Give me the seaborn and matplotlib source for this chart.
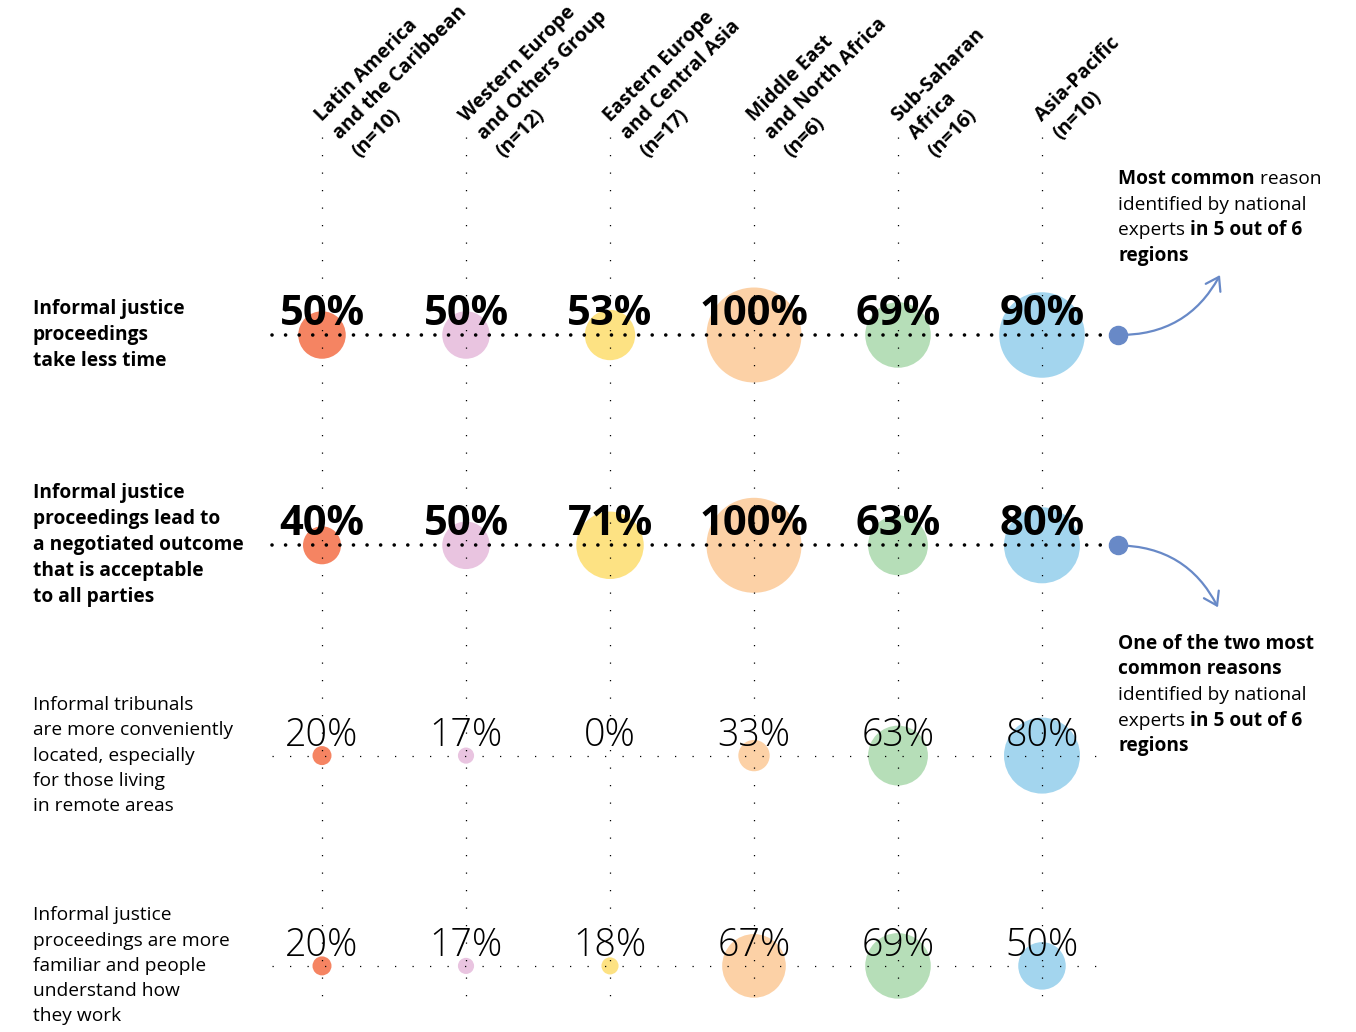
import numpy as np
import pandas as pd
import matplotlib
matplotlib.use("Agg")
import matplotlib.pyplot as plt
import seaborn as sns
from matplotlib.patches import FancyArrowPatch

# region columns
region_names = [
    "Latin America\nand the Caribbean",
    "Western Europe\nand Others Group",
    "Eastern Europe\nand Central Asia",
    "Middle East\nand North Africa",
    "Sub-Saharan\nAfrica",
    "Asia-Pacific",
]
region_n = [10, 12, 17, 6, 16, 10]
region_colors = ["#f58462", "#e9c4e0", "#fde283", "#fcd1a6", "#b6deb8", "#a3d5ee"]

# reasons (rows)
reasons = [
    "Informal justice\nproceedings\ntake less time",
    "Informal justice\nproceedings lead to\na negotiated outcome\nthat is acceptable\nto all parties",
    "Informal tribunals\nare more conveniently\nlocated, especially\nfor those living\nin remote areas",
    "Informal justice\nproceedings are more\nfamiliar and people\nunderstand how\nthey work",
]
reason_bold = [True, True, False, False]

# share of national experts (%)
less_time = [50, 50, 53, 100, 69, 90]
negotiated = [40, 50, 71, 100, 63, 80]
convenient = [20, 17, 0, 33, 63, 80]
familiar = [20, 17, 18, 67, 69, 50]
values = [less_time, negotiated, convenient, familiar]

rows = []
for j, vals in enumerate(values):
    for i, v in enumerate(vals):
        rows.append({"xi": i, "yi": j, "region": region_names[i], "value": v})
df = pd.DataFrame(rows)

sns.set_style("white")
plt.rcParams["font.family"] = ["Open Sans", "DejaVu Sans"]
plt.rcParams["text.color"] = "black"

W, H = 1356, 1032
fig = plt.figure(figsize=(W / 100, H / 100), dpi=100)
ax = fig.add_axes([0, 0, 1, 1])
col_px, row_px = 144.0, 210.3
x0_px, y0_px = 322.0, 335.0
ax.set_xlim(-x0_px / col_px, (W - x0_px) / col_px)
ax.set_ylim((H - y0_px) / row_px, -y0_px / row_px)
ax.axis("off")

# bubble radius in px ~ 0.475 * value
sizes = (0.475 * df["value"] * 0.72 * 2) ** 2
palette = dict(zip(region_names, region_colors))
sns.scatterplot(data=df, x="xi", y="yi", hue="region", palette=palette,
                s=sizes, linewidth=0, legend=False, ax=ax, zorder=1)

# vertical dotted guides
ax.vlines(range(len(region_names)), -0.94, 3.16, colors="black",
          linewidth=0.9, linestyles=(0, (1, 13)), zorder=2)

# horizontal dotted lines
for j in range(len(reasons)):
    if reason_bold[j]:
        ax.plot([-0.347, 5.53], [j, j], color="black", linewidth=2.6,
                linestyle=(0, (0.01, 3.75)), dash_capstyle="round", zorder=2)
    else:
        ax.plot([-0.347, 5.38], [j, j], color="black", linewidth=0.9,
                linestyle=(0, (1, 13)), zorder=2)

# percentage labels
for _, r in df.iterrows():
    bold = reason_bold[int(r["yi"])]
    ax.annotate(f"{int(r['value'])}%", (r["xi"], r["yi"]), xytext=(0, 7.2),
                textcoords="offset points", ha="center", va="baseline",
                fontsize=30 if bold else 27, color="black",
                fontweight="bold" if bold else "light", zorder=3)

# row labels
for j, lab in enumerate(reasons):
    ax.text(33 / W, j, lab, transform=ax.get_yaxis_transform(),
            ha="left", va="center", fontsize=13.8, color="black",
            fontweight="bold" if reason_bold[j] else "normal",
            linespacing=1.4 if reason_bold[j] else 1.52)

# column headers: one rotated text per line, stepping down-right
for i, (name, n) in enumerate(zip(region_names, region_n)):
    lines = name.split("\n") + [f"(n={n})"]
    for k, line in enumerate(lines):
        ax.annotate(line, (i, -1.013), xytext=(13.3 * k, -13.0 * k),
                    textcoords="offset points", rotation=45,
                    rotation_mode="anchor", ha="left", va="baseline",
                    fontsize=14, fontweight="bold", color="black")

# callouts on the right
blue = "#6889c7"
dot_x = len(region_names) - 1 + 0.53
ax.scatter([dot_x, dot_x], [0, 1], s=170, color=blue, zorder=4)
for (ya, xb, yb, rad) in [(0, 6.236, -0.285, 0.3), (1, 6.222, 1.295, -0.3)]:
    arr = FancyArrowPatch((dot_x, ya), (xb, yb),
                          connectionstyle=f"arc3,rad={rad}",
                          arrowstyle="->,head_length=0.45,head_width=0.3",
                          mutation_scale=20, color=blue, linewidth=1.6,
                          shrinkA=0, shrinkB=0, zorder=4)
    ax.add_patch(arr)

renderer = fig.canvas.get_renderer()


def rich_line(x_px, y_px, parts, size=13.8):
    x = x_px / W
    for txt, weight in parts:
        t = fig.text(x, 1 - y_px / H, txt, fontsize=size, fontweight=weight,
                     ha="left", va="center", color="black")
        bb = t.get_window_extent(renderer)
        x += bb.width / W


note1 = [
    [("Most common", "bold"), (" reason", "normal")],
    [("identified by national", "normal")],
    [("experts ", "normal"), ("in 5 out of 6", "bold")],
    [("regions", "bold")],
]
note2 = [
    [("One of the two most", "bold")],
    [("common reasons", "bold")],
    [("identified by national", "normal")],
    [("experts ", "normal"), ("in 5 out of 6", "bold")],
    [("regions", "bold")],
]
for k, parts in enumerate(note1):
    rich_line(1118, 179 + 25.5 * k, parts)
for k, parts in enumerate(note2):
    rich_line(1118, 644 + 25.5 * k, parts)

fig.savefig("out.png", dpi=100, facecolor="white")
